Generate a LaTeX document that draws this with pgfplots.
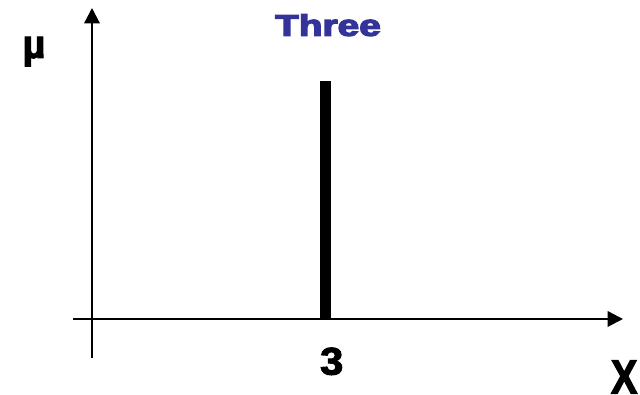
\documentclass[border=0pt]{standalone}
\usepackage{pgfplots}
\pgfplotsset{compat=1.18}
\usepackage{fontspec}
\setmainfont{Liberation Sans}
\newfontface\heavyfont[FakeBold=2.5]{Liberation Sans Bold}
\newfontface\titlefont[FakeBold=4]{Liberation Sans Bold}
\usetikzlibrary{arrows.meta}
\definecolor{titleblue}{RGB}{51,51,153}
\begin{document}
\begin{tikzpicture}
\begin{axis}[
  scale only axis,
  width=412.5pt, height=262.5pt,
  xmin=-0.244, xmax=6.823,
  ymin=-0.164, ymax=1.307,
  axis lines=middle,
  axis line style={line width=1.6pt, -{Triangle[width=11.5pt,length=11.5pt]}},
  xtick=\empty, ytick=\empty,
  clip=false,
]
\addplot[ybar, bar width=8.25pt, fill=black, draw=none] coordinates {(3,1)};
\node[text=titleblue, font=\fontsize{22.4pt}{26pt}\titlefont, xscale=1.3, inner sep=0pt] at (axis cs:3.032,1.235) {Three};
\node[font=\fontsize{29pt}{32pt}\heavyfont, xscale=1.08, inner sep=0pt] at (axis cs:3.08,-0.178) {3};
\node[font=\fontsize{36pt}{40pt}\heavyfont, xscale=0.83, inner sep=0pt] at (axis cs:6.838,-0.244) {X};
\node[font=\fontsize{30pt}{34pt}\heavyfont, inner sep=0pt, anchor=base] at (axis cs:-0.745,1.097) {µ};
\end{axis}
\path[use as bounding box] ([xshift=-54.75pt,yshift=-27pt]current axis.south west) rectangle ([xshift=12.75pt,yshift=6pt]current axis.north east);
\end{tikzpicture}
\end{document}
